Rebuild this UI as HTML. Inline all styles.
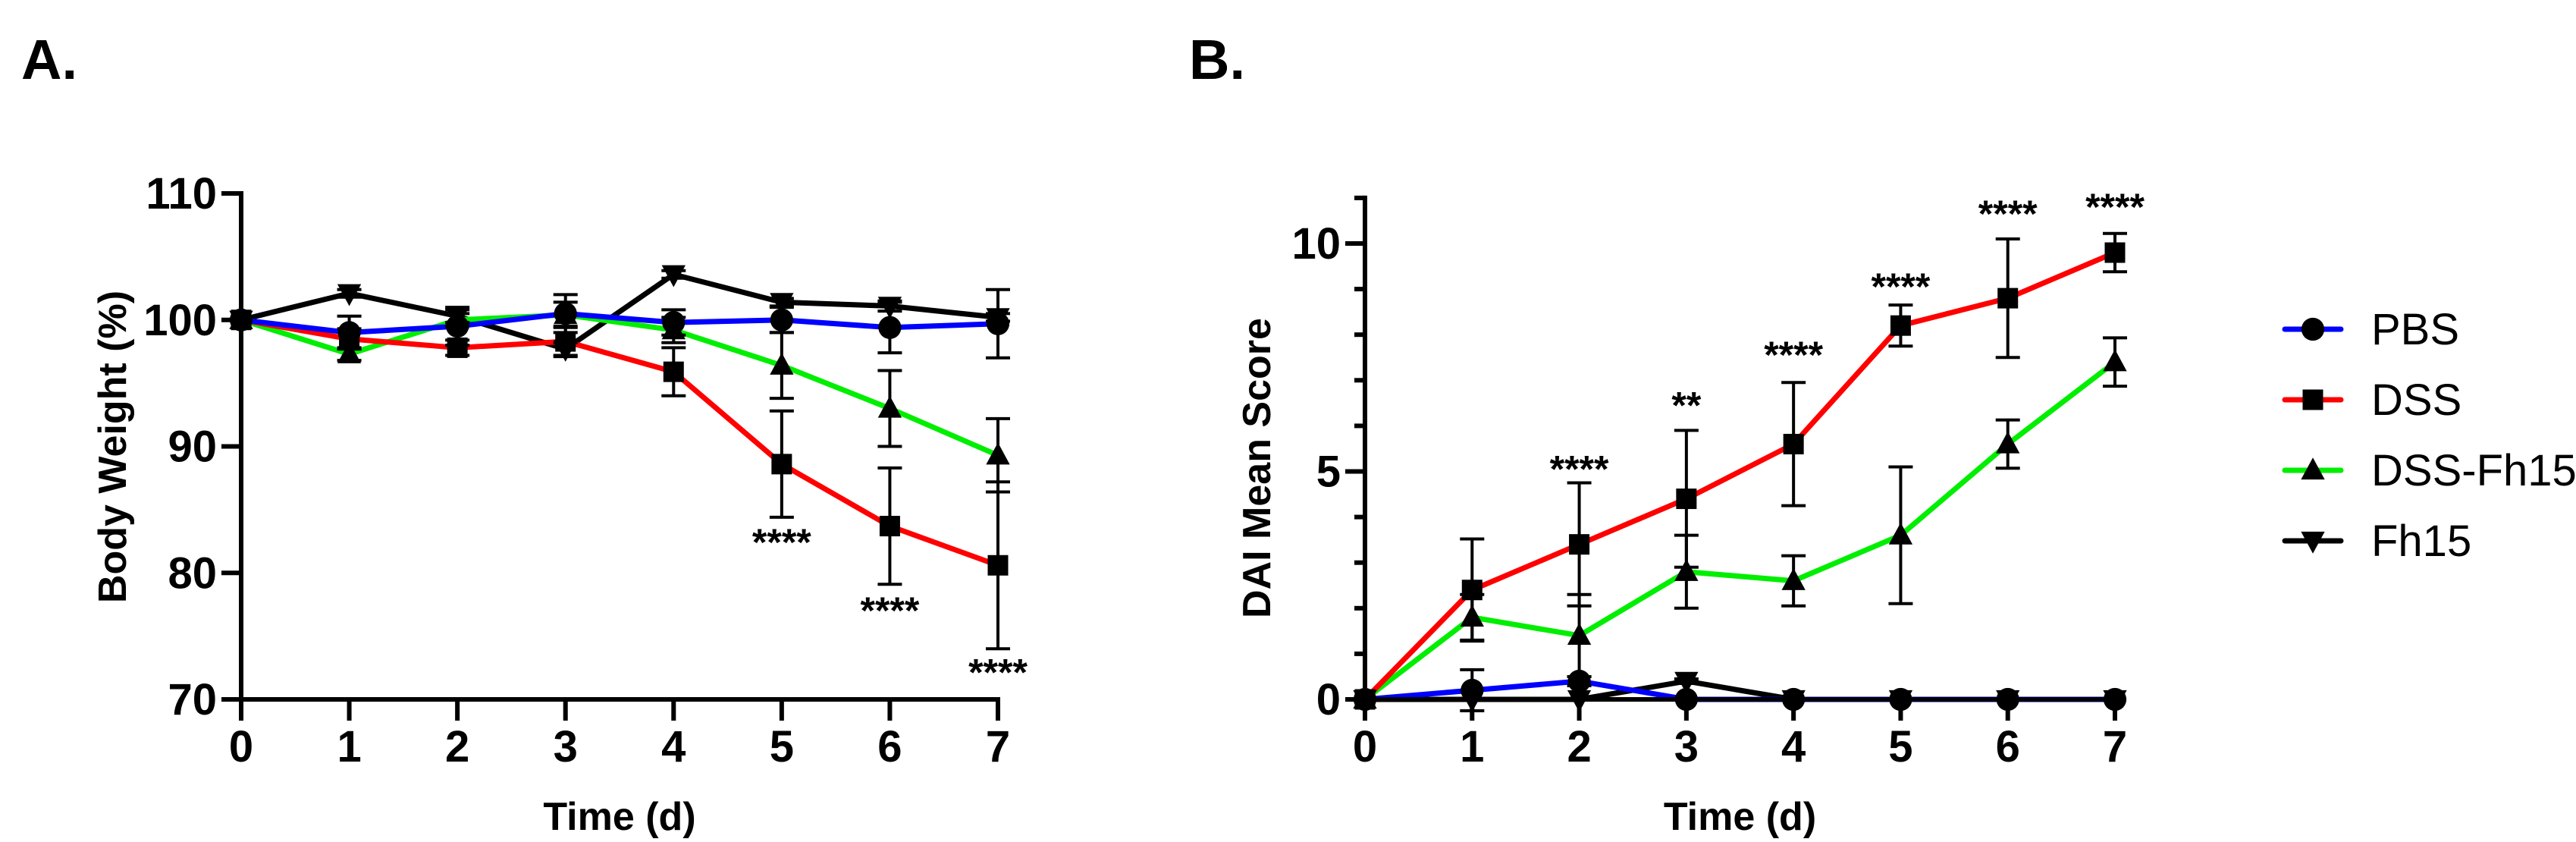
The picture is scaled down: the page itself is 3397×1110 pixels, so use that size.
<!DOCTYPE html>
<html><head><meta charset="utf-8">
<style>
html,body{margin:0;padding:0;background:#fff;}
svg{display:block;}
text{font-family:"Liberation Sans",Arial,sans-serif;}
.tick{font-family:"Liberation Sans Narrow","Liberation Sans",sans-serif;font-weight:bold;font-size:58px;}
.title{font-weight:bold;font-size:52px;}
.stars{font-family:"Liberation Sans Narrow","Liberation Sans",sans-serif;font-weight:bold;font-size:50px;}
.leg{font-family:"Liberation Sans Narrow","Liberation Sans",sans-serif;font-size:58px;}
</style></head>
<body>
<svg id="fig" width="3397" height="1110" viewBox="0 0 3397 1110" xmlns="http://www.w3.org/2000/svg">
<text x="28" y="104" font-size="74" font-weight="bold">A.</text>
<text x="1568" y="104" font-size="74" font-weight="bold">B.</text>
<g id="chartA"></g>
<g id="chartB"></g>
<g id="legend"></g>
</svg>
<script>
const days = [0,1,2,3,4,5,6,7];
const seriesNames = ["Fh15","DSS-Fh15","DSS","PBS"];
const seriesColors = {"PBS":"#0000ff","DSS":"#ff0000","DSS-Fh15":"#00ee00","Fh15":"#000000"};
const seriesMarkers = {"PBS":"circle","DSS":"square","DSS-Fh15":"tri","Fh15":"itri"};

// Panel A: body weight (%)
const aPBS = [100,99.0,99.5,100.5,99.8,100.0,99.4,99.7];
const aPBSerr = [0,1.3,1.5,1.5,1.0,1.0,2.0,2.7];
const aDSS = [100,98.5,97.8,98.3,95.9,88.6,83.7,80.6];
const aDSSerr = [0,0.8,0.6,1.2,1.9,4.2,4.6,6.6];
const aDSSFh = [100,97.3,100.0,100.4,99.2,96.4,93.0,89.3];
const aDSSFherr = [0,0.5,0.5,1.0,1.0,2.6,3.0,2.9];
const aFh = [100,102.1,100.3,97.7,103.6,101.4,101.1,100.2];
const aFherr = [0,0.3,0.5,0.5,0.3,0.3,0.4,0.3];
const aYTicks = [70,80,90,100,110];
const aStarDays = [5,6,7];
const aStarVals = [82.6,77.2,72.3];
const aStarLabels = ["****","****","****"];

// Panel B: DAI mean score
const bPBS = [0,0.2,0.4,0,0,0,0,0];
const bPBSerr = [0,0.45,0.1,0,0,0,0,0];
const bDSS = [0,2.4,3.4,4.4,5.6,8.2,8.8,9.8];
const bDSSerr = [0,1.12,1.35,1.5,1.35,0.45,1.3,0.42];
const bDSSFh = [0,1.8,1.4,2.8,2.6,3.6,5.6,7.4];
const bDSSFherr = [0,0.5,0.9,0.8,0.55,1.5,0.53,0.53];
const bFh = [0,0,0,0.4,0,0,0,0];
const bFherr = [0,0,0,0.05,0,0,0,0];
const bYTicks = [0,5,10];
const bMinorTicks = [1,2,3,4,6,7,8,9,11];
const bStarDays = [2,3,4,5,6,7];
const bStarVals = [5.1,6.5,7.6,9.1,10.7,10.85];
const bStarLabels = ["****","**","****","****","****","****"];

const NS = "http://www.w3.org/2000/svg";
function mk(parent, tag, attrs, text){
  const e = document.createElementNS(NS, tag);
  for (const k in attrs) e.setAttribute(k, attrs[k]);
  if (text !== undefined) e.textContent = text;
  parent.appendChild(e);
  return e;
}
function marker(g, type, cx, cy, s){
  let e;
  if (type==="circle") e = mk(g,"circle",{cx:cx,cy:cy,r:s*0.56,fill:"#000"});
  else if (type==="square") e = mk(g,"rect",{x:cx-s/2,y:cy-s/2,width:s,height:s,fill:"#000"});
  else if (type==="tri") e = mk(g,"polygon",{points:`${cx},${cy-s*0.62} ${cx-s*0.58},${cy+s*0.45} ${cx+s*0.58},${cy+s*0.45}`,fill:"#000"});
  else e = mk(g,"polygon",{points:`${cx},${cy+s*0.62} ${cx-s*0.58},${cy-s*0.45} ${cx+s*0.58},${cy-s*0.45}`,fill:"#000"});
  return e;
}

function drawChart(g, cfg){
  const xs = d => cfg.x0 + (d - 0) * (cfg.x1 - cfg.x0) / 7;
  const ys = v => cfg.yBot - (v - cfg.yMin) * (cfg.yBot - cfg.yTop) / (cfg.yMax - cfg.yMin);
  const data = cfg.data;
  seriesNames.forEach(n => {
    const pts = days.map((d,i)=>`${xs(d)},${ys(data[n].v[i])}`).join(" ");
    const pl = mk(g,"polyline",{points:pts,fill:"none",stroke:seriesColors[n],"stroke-width":7,"stroke-linejoin":"round"});
    
    
  });
  seriesNames.forEach(n => {
    days.forEach((d,i)=>{
      const e = data[n].e[i]; if (!e) return;
      const x = xs(d), v = data[n].v[i];
      const eg = mk(g,"g",{stroke:"#000","stroke-width":4});
      
      
      mk(eg,"line",{x1:x,x2:x,y1:ys(v-e),y2:ys(v+e)});
      mk(eg,"line",{x1:x-16,x2:x+16,y1:ys(v+e),y2:ys(v+e)});
      mk(eg,"line",{x1:x-16,x2:x+16,y1:ys(v-e),y2:ys(v-e)});
    });
  });
  seriesNames.forEach(n => {
    days.forEach((d,i)=>{
      const m = marker(g, seriesMarkers[n], xs(d), ys(data[n].v[i]), 27);
      
      
    });
  });
  const ax = mk(g,"g",{stroke:"#000","stroke-width":6,"stroke-linecap":"butt"});
  
  
  mk(ax,"line",{x1:cfg.x0,x2:cfg.x0,y1:ys(cfg.axisTop)-3,y2:cfg.yBot+3});
  mk(ax,"line",{x1:cfg.x0-3,x2:cfg.x1+3,y1:cfg.yBot,y2:cfg.yBot});
  cfg.yTicks.forEach(t=>{
    mk(ax,"line",{x1:cfg.x0-26,x2:cfg.x0,y1:ys(t),y2:ys(t)});
    const tl = mk(g,"text",{x:cfg.x0-32,y:ys(t)+20,"text-anchor":"end",class:"tick"}, String(t));
    
    
  });
  (cfg.minor||[]).forEach(t=>{
    mk(ax,"line",{x1:cfg.x0-14,x2:cfg.x0,y1:ys(t),y2:ys(t)});
  });
  days.forEach(d=>{
    mk(ax,"line",{x1:xs(d),x2:xs(d),y1:cfg.yBot,y2:cfg.yBot+28});
    const tl = mk(g,"text",{x:xs(d),y:cfg.yBot+82,"text-anchor":"middle",class:"tick"}, String(d));
    
    
  });
  cfg.starDays.forEach((d,i)=>{
    const s = mk(g,"text",{x:xs(d),y:ys(cfg.starVals[i])+20,"text-anchor":"middle",class:"stars"}, cfg.starLabels[i]);
    
    
  });
  const xt = mk(g,"text",{x:(cfg.x0+cfg.x1)/2,y:1094,"text-anchor":"middle",class:"title"}, "Time (d)");
  
  
  const yt = mk(g,"text",{x:0,y:0,"text-anchor":"middle",class:"title",transform:`translate(${cfg.ytX},${cfg.ytY}) rotate(-90)`}, cfg.yTitle);
  
  
}

drawChart(document.getElementById("chartA"), {
  x0:318, x1:1316, yTop:255, yBot:922, yMin:70, yMax:110, axisTop:110,
  yTicks:aYTicks, starDays:aStarDays, starVals:aStarVals, starLabels:aStarLabels,
  yTitle:"Body Weight (%)", ytX:166, ytY:589,
  data:{"PBS":{v:aPBS,e:aPBSerr},"DSS":{v:aDSS,e:aDSSerr},"DSS-Fh15":{v:aDSSFh,e:aDSSFherr},"Fh15":{v:aFh,e:aFherr}}
});
drawChart(document.getElementById("chartB"), {
  x0:1800, x1:2789, yTop:321, yBot:922, yMin:0, yMax:10, axisTop:11,
  yTicks:bYTicks, minor:bMinorTicks, starDays:bStarDays, starVals:bStarVals, starLabels:bStarLabels,
  yTitle:"DAI Mean Score", ytX:1675, ytY:617,
  data:{"PBS":{v:bPBS,e:bPBSerr},"DSS":{v:bDSS,e:bDSSerr},"DSS-Fh15":{v:bDSSFh,e:bDSSFherr},"Fh15":{v:bFh,e:bFherr}}
});

const legOrder = ["PBS","DSS","DSS-Fh15","Fh15"];
const lg = document.getElementById("legend");
legOrder.forEach((n,i)=>{
  const y = 434 + i*93;
  const eg = mk(lg,"g",{});
  
  
  mk(eg,"line",{x1:3013,x2:3087,y1:y,y2:y,stroke:seriesColors[n],"stroke-width":7,"stroke-linecap":"round"});
  marker(eg, seriesMarkers[n], 3050, y, 27);
  mk(eg,"text",{x:3127,y:y+20,class:"leg"}, n);
});
</script>
</body></html>
